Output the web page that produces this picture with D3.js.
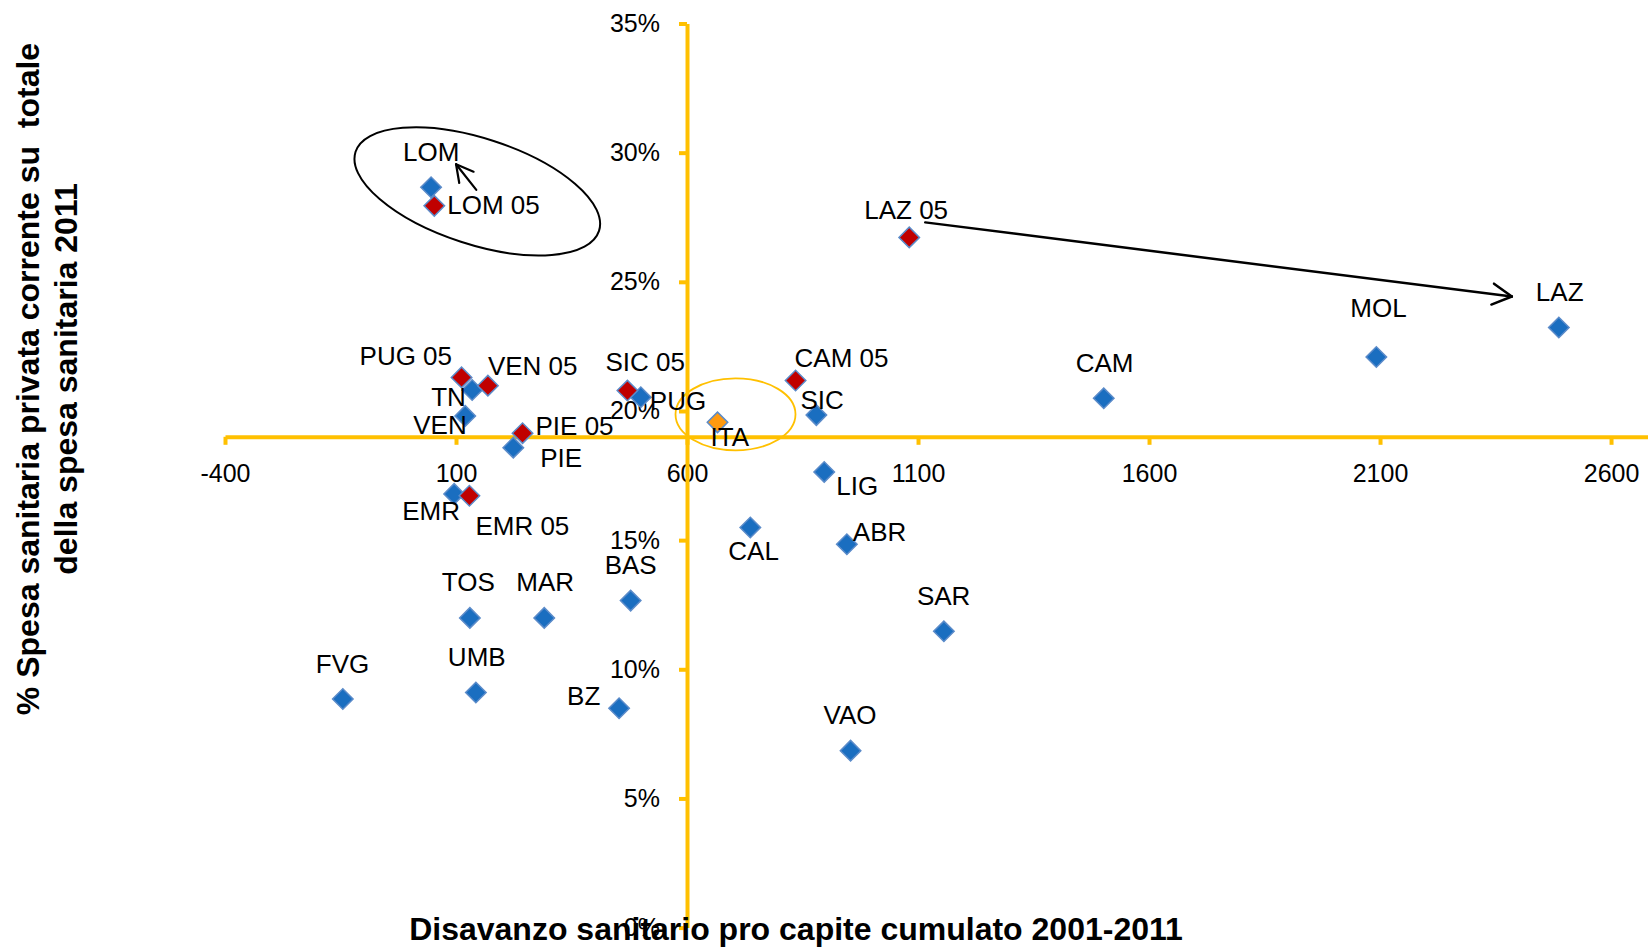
<!DOCTYPE html>
<html>
<head>
<meta charset="utf-8">
<script src="https://cdn.jsdelivr.net/npm/d3@7"></script>
<style>
  body { margin: 0; background: #fff; }
  svg { display: block; font-family: "Liberation Sans", Arial, sans-serif; }
</style>
</head>
<body>
<svg id="chart" width="1648" height="949"></svg>
<script>
// regioni 2011 (blu)
var names2011 = ["LOM", "TN", "VEN", "PIE", "PUG", "SIC", "LIG", "CAL", "ABR", "SAR", "VAO",
                 "EMR", "TOS", "MAR", "BAS", "FVG", "UMB", "BZ", "CAM", "MOL", "LAZ"];
var disavanzo2011 = [46, 135, 120, 224, 500, 880, 897, 737, 946, 1156, 954,
                     96, 130, 291, 478, -145, 143, 453, 1502, 2092, 2487];
var spesaPriv2011 = [28.66, 20.81, 19.81, 18.58, 20.53, 19.84, 17.64, 15.49, 14.84, 11.47, 6.85,
                     16.79, 11.99, 11.99, 12.66, 8.85, 9.10, 8.49, 20.49, 22.09, 23.23];

// regioni 2005 (rosso)
var names2005 = ["LOM 05", "PUG 05", "VEN 05", "SIC 05", "PIE 05", "EMR 05", "CAM 05", "LAZ 05"];
var disavanzo2005 = [53, 112, 169, 471, 244, 129, 835, 1081];
var spesaPriv2005 = [27.94, 21.30, 20.98, 20.79, 19.14, 16.72, 21.18, 26.72];

// media Italia
var namesIta = ["ITA"];
var disavanzoIta = [666];
var spesaPrivIta = [19.56];

var xTicks = [-400, 100, 600, 1100, 1600, 2100, 2600];
var yTicks = [0, 5, 10, 15, 20, 25, 30, 35];

// label offsets (px) from the marker
var labelOffsets = {
    "LOM": [-28, -26], "LOM 05": [13, 8], "PUG 05": [-102, -12], "TN": [-41, 16],
    "VEN 05": [0, -11], "VEN": [-52, 18], "PIE 05": [13, 2], "PIE": [27, 19],
    "SIC 05": [-22, -20], "PUG": [9, 13], "ITA": [-7, 24], "EMR": [-52, 26],
    "EMR 05": [6, 39], "SIC": [-16, -6], "LIG": [12, 23], "ABR": [6, -3],
    "SAR": [-27, -26], "VAO": [-27, -27], "CAL": [-22, 33], "TOS": [-28, -27],
    "MAR": [-28, -27], "BAS": [-26, -27], "BZ": [-52, -3], "FVG": [-27, -26],
    "UMB": [-28, -27], "CAM": [-28, -26], "MOL": [-26, -40], "LAZ": [-23, -27],
    "CAM 05": [-1, -13], "LAZ 05": [-45, -18]
};

var svg = d3.select("#chart");
var gold = "#FFC000";

var x = d3.scaleLinear().domain([-400, 2680]).range([225, 1648]);
var y = d3.scaleLinear().domain([0, 35]).range([927.6, 23.5]);

var xCross = 600;   // l'asse verticale incrocia a 600
var yCross = 19;    // l'asse orizzontale incrocia a 19%

function series(names, xs, ys) {
    return names.map(function (n, i) { return {name: n, x: xs[i], y: ys[i]}; });
}
var pts2011 = series(names2011, disavanzo2011, spesaPriv2011);
var pts2005 = series(names2005, disavanzo2005, spesaPriv2005);
var ptsIta = series(namesIta, disavanzoIta, spesaPrivIta);

// axes
var xAxis = svg.append("g")
    .attr("transform", "translate(0," + y(yCross) + ")")
    .call(d3.axisBottom(x).tickValues(xTicks).tickSize(8).tickSizeOuter(0).tickPadding(19)
        .tickFormat(function (d) { return String(d); }));
var yAxis = svg.append("g")
    .attr("transform", "translate(" + x(xCross) + ",0)")
    .call(d3.axisLeft(y).tickValues(yTicks).tickSize(8).tickSizeOuter(0).tickPadding(19)
        .tickFormat(function (d) { return d + "%"; }));

[xAxis, yAxis].forEach(function (g) {
    g.select(".domain").attr("stroke", gold).attr("stroke-width", 4);
    g.selectAll(".tick line").attr("stroke", gold).attr("stroke-width", 4);
    g.selectAll(".tick text").attr("fill", "#000").style("font-size", "25px")
        .style("font-family", "'Liberation Sans', Arial, sans-serif");
});

// annotations
function pos(list, name) {
    var p = list.filter(function (d) { return d.name === name; })[0];
    return [x(p.x), y(p.y)];
}

function arrow(x1, y1, x2, y2, len, width) {
    var a = Math.atan2(y2 - y1, x2 - x1);
    var g = svg.append("g").attr("stroke", "#000").attr("stroke-width", width)
        .attr("fill", "none").attr("stroke-linecap", "round");
    g.append("line").attr("x1", x1).attr("y1", y1).attr("x2", x2).attr("y2", y2);
    [-0.5, 0.5].forEach(function (s) {
        g.append("line").attr("x1", x2).attr("y1", y2)
            .attr("x2", x2 - len * Math.cos(a + s)).attr("y2", y2 - len * Math.sin(a + s));
    });
}

var lom05 = pos(pts2005, "LOM 05");
var lom = pos(pts2011, "LOM");
svg.append("ellipse")
    .attr("transform", "translate(" + (lom05[0] + 43) + "," + (lom05[1] - 14.5) + ") rotate(18)")
    .attr("rx", 128).attr("ry", 53)
    .attr("fill", "none").attr("stroke", "#000").attr("stroke-width", 2);
arrow(lom05[0] + 42, lom05[1] - 16, lom[0] + 25, lom[1] - 23, 19, 2.2);

var laz05 = pos(pts2005, "LAZ 05");
var laz = pos(pts2011, "LAZ");
arrow(laz05[0] + 16, laz05[1] - 15, laz[0] - 47, laz[1] - 31, 22, 2.5);

var ita = pos(ptsIta, "ITA");
svg.append("ellipse")
    .attr("cx", ita[0] + 18).attr("cy", ita[1] - 8)
    .attr("rx", 60).attr("ry", 36)
    .attr("fill", "none").attr("stroke", gold).attr("stroke-width", 1.8);

// markers
var diamond = d3.symbol().type(d3.symbolSquare).size(210);

function drawPoints(data, fill) {
    svg.append("g").selectAll("path")
        .data(data)
        .enter().append("path")
        .attr("d", diamond)
        .attr("transform", function (d) { return "translate(" + x(d.x) + "," + y(d.y) + ") rotate(45)"; })
        .attr("fill", fill)
        .attr("stroke", "#5B8BC9")
        .attr("stroke-width", 1.5);
}
drawPoints(pts2011, "#1A6EC0");
drawPoints(pts2005, "#C00000");
drawPoints(ptsIta, "#FF9A10");

// labels
var allPts = pts2011.concat(pts2005, ptsIta);
svg.append("g").selectAll("text")
    .data(allPts)
    .enter().append("text")
    .attr("x", function (d) { return x(d.x) + labelOffsets[d.name][0]; })
    .attr("y", function (d) { return y(d.y) + labelOffsets[d.name][1]; })
    .style("font-size", "26px")
    .attr("fill", "#000")
    .text(function (d) { return d.name; });

// axis titles
svg.append("text")
    .attr("x", 796).attr("y", 940)
    .attr("text-anchor", "middle")
    .style("font-size", "32px").style("font-weight", "bold")
    .text("Disavanzo sanitario pro capite cumulato 2001-2011");

var yTitle = svg.append("text")
    .attr("transform", "translate(0,379) rotate(-90)")
    .attr("text-anchor", "middle")
    .style("font-size", "32px").style("font-weight", "bold")
    .style("white-space", "pre");
yTitle.append("tspan").attr("x", 0).attr("y", 39).text("% Spesa sanitaria privata corrente su  totale");
yTitle.append("tspan").attr("x", 0).attr("y", 77).text("della spesa sanitaria 2011");
</script>
</body>
</html>
